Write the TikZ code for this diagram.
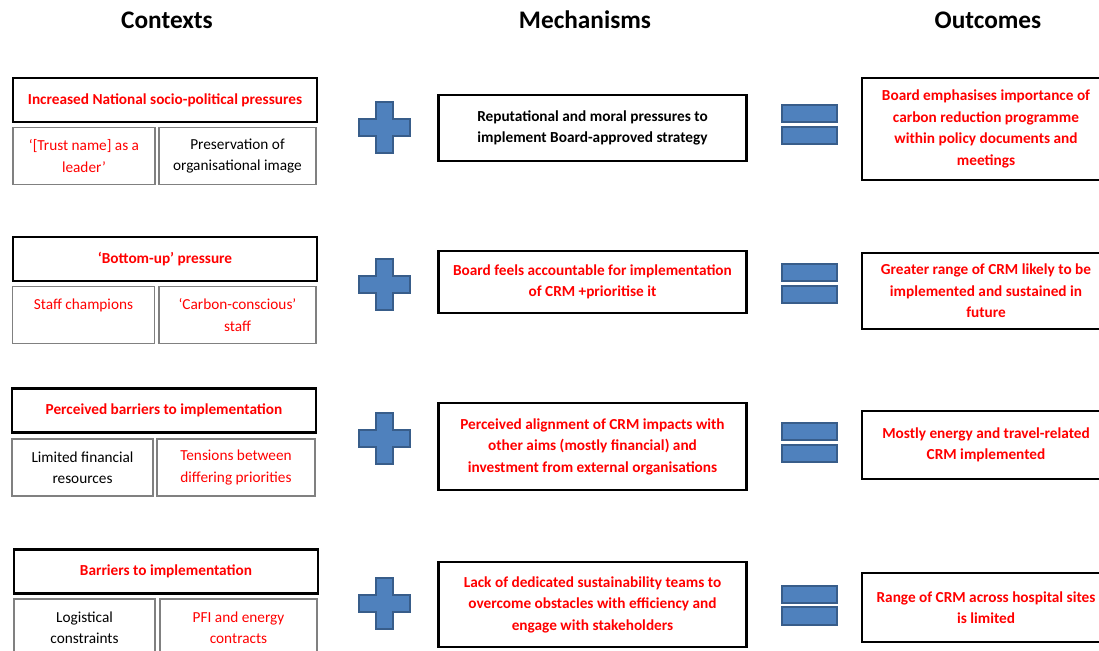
\documentclass[tikz,border=0pt]{standalone}
\usepackage{xcolor}
\usepackage{tikz}
\usepackage{fontspec}
\setmainfont{Carlito}

\definecolor{signblue}{HTML}{4F81BD}
\definecolor{signedge}{HTML}{385D8A}
\definecolor{subgray}{HTML}{808080}

\begin{document}
\begin{tikzpicture}[x=0.02cm,y=-0.02cm,
  every node/.style={font=\fontsize{8.7}{12.2}\selectfont,align=center,inner sep=0pt},
  title/.style={font=\fontsize{14.4}{17}\selectfont\bfseries},
  ctxhead/.style={draw,line width=1.6pt,minimum width=6.08cm,minimum height=0.88cm,text=red,font=\fontsize{8.7}{12.2}\selectfont\bfseries},
  ctxsub/.style={draw=subgray,line width=0.6pt,minimum height=1.14cm},
  mechbox/.style={draw,line width=1.6pt,minimum width=6.16cm,font=\fontsize{8.7}{12.2}\selectfont\bfseries},
  outbox/.style={draw,line width=1.6pt,minimum width=4.96cm,text=red,font=\fontsize{8.7}{12.2}\selectfont\bfseries},
  sign/.style={fill=signblue,draw=signedge,line width=1pt}]
\useasboundingbox (0,0) rectangle (1099,650);

\node[title] (ctx) at (167,20) {Contexts};
\node[title] (mech) at (585,20) {Mechanisms};
\node[title] (out) at (988,20) {Outcomes};

% row 1
\node[ctxhead] (h1) at (165,100) {Increased National socio-political pressures};
\node[ctxsub,minimum width=2.84cm,text=red] (a1) at (84,156) {`[Trust name] as a\\leader'};
\node[ctxsub,minimum width=3.14cm] (b1) at (237.5,156) {Preservation of\\organisational image};
\draw[sign] (376,102) -- ++(17,0) -- ++(0,17) -- ++(17,0) -- ++(0,17) -- ++(-17,0) -- ++(0,17)
  -- ++(-17,0) -- ++(0,-17) -- ++(-17,0) -- ++(0,-17) -- ++(17,0) -- cycle;
\node[mechbox,minimum height=1.32cm] (m1) at (592.5,128) {Reputational and moral pressures to\\implement Board-approved strategy};
\draw[sign] (782,105) rectangle (837,122);
\draw[sign] (782,127) rectangle (837,144);
\node[outbox,minimum height=2.04cm] (o1) at (986,129) {Board emphasises importance of\\carbon reduction programme\\within policy documents and\\meetings};

% row 2
\node[ctxhead] (h2) at (165,259) {`Bottom-up' pressure};
\node[ctxsub,minimum width=2.84cm,text=red] (a2) at (83.5,315) {Staff champions\\~};
\node[ctxsub,minimum width=3.14cm,text=red] (b2) at (237.5,315) {`Carbon-conscious'\\staff};
\draw[sign] (376,259) -- ++(17,0) -- ++(0,17) -- ++(17,0) -- ++(0,17) -- ++(-17,0) -- ++(0,17)
  -- ++(-17,0) -- ++(0,-17) -- ++(-17,0) -- ++(0,-17) -- ++(17,0) -- cycle;
\node[mechbox,minimum height=1.24cm,text=red] (m2) at (592.5,282) {Board feels accountable for implementation\\of CRM +prioritise it};
\draw[sign] (782,264) rectangle (837,281);
\draw[sign] (782,286) rectangle (837,303);
\node[outbox,minimum height=1.52cm] (o2) at (986,291) {Greater range of CRM likely to be\\implemented and sustained in\\future};

% row 3
\node[ctxhead] (h3) at (164,410.5) {Perceived barriers to implementation};
\node[ctxsub,minimum width=2.82cm] (a3) at (82.5,467.5) {Limited financial\\resources};
\node[ctxsub,minimum width=3.16cm,text=red] (b3) at (236,467.5) {Tensions between\\differing priorities};
\draw[sign] (376,413) -- ++(17,0) -- ++(0,17) -- ++(17,0) -- ++(0,17) -- ++(-17,0) -- ++(0,17)
  -- ++(-17,0) -- ++(0,-17) -- ++(-17,0) -- ++(0,-17) -- ++(17,0) -- cycle;
\node[mechbox,minimum height=1.74cm,text=red] (m3) at (592.5,446.5) {Perceived alignment of CRM impacts with\\other aims (mostly financial) and\\investment from external organisations};
\draw[sign] (782,423) rectangle (837,440);
\draw[sign] (782,445) rectangle (837,462);
\node[outbox,minimum height=1.36cm] (o3) at (986,445) {Mostly energy and travel-related\\CRM implemented};

% row 4
\node[ctxhead] (h4) at (166,571.5) {Barriers to implementation};
\node[ctxsub,minimum width=2.82cm,minimum height=1.16cm] (a4) at (84.5,628) {Logistical\\constraints};
\node[ctxsub,minimum width=3.14cm,minimum height=1.16cm,text=red] (b4) at (238.5,628) {PFI and energy\\contracts};
\draw[sign] (376,578) -- ++(17,0) -- ++(0,17) -- ++(17,0) -- ++(0,17) -- ++(-17,0) -- ++(0,17)
  -- ++(-17,0) -- ++(0,-17) -- ++(-17,0) -- ++(0,-17) -- ++(17,0) -- cycle;
\node[mechbox,minimum height=1.7cm,text=red] (m4) at (592.5,604.5) {Lack of dedicated sustainability teams to\\overcome obstacles with efficiency and\\engage with stakeholders};
\draw[sign] (782,586) rectangle (837,603);
\draw[sign] (782,607) rectangle (837,625);
\node[outbox,minimum height=1.38cm] (o4) at (986,607.5) {Range of CRM across hospital sites\\is limited};

\end{tikzpicture}
\end{document}
